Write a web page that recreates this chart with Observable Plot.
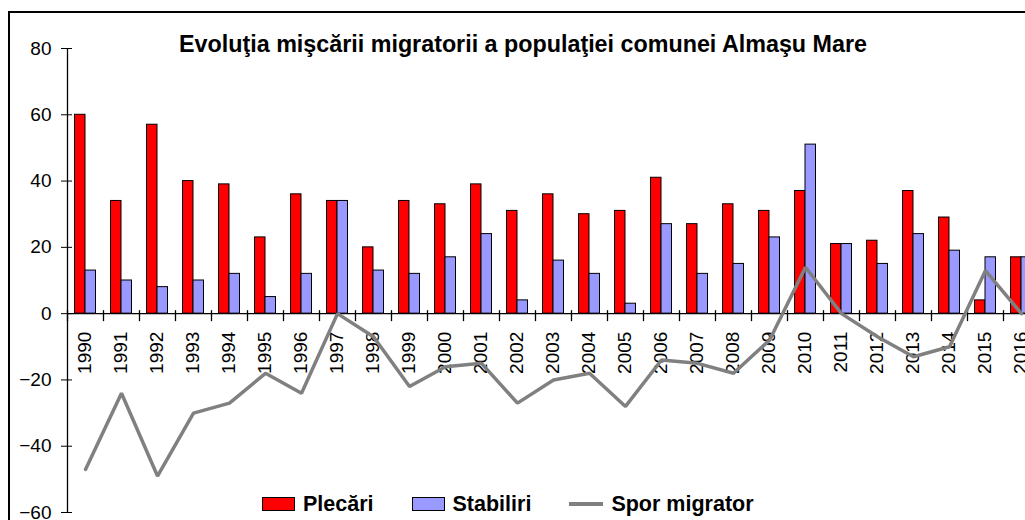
<!DOCTYPE html>
<html>
<head>
<meta charset="utf-8">
<script src="https://cdn.jsdelivr.net/npm/d3@7"></script>
<script src="https://cdn.jsdelivr.net/npm/@observablehq/plot@0.6"></script>
<style>
  html, body { margin: 0; padding: 0; background: #fff; overflow: hidden; }
  #wrap { position: relative; width: 1025px; height: 520px; overflow: hidden; background: #fff;
          font-family: "Liberation Sans", Arial, sans-serif; color: #000; }
  #chart { position: absolute; left: 0; top: 0; width: 1060px; height: 520px; }
  #chart svg { max-width: none !important; width: 1060px; height: 520px; }
  #frame { position: absolute; left: 8px; top: 11px; width: 1100px; height: 600px;
           border: 2px solid #000; pointer-events: none; }
  #title { position: absolute; left: 0; width: 1046px; top: 33px; text-align: center;
           font-weight: bold; font-size: 23.3px; line-height: 23px; white-space: nowrap; }
  #legend { position: absolute; left: 262px; top: 494px; height: 20px; display: flex;
            align-items: center; gap: 38px; font-weight: bold; font-size: 21.5px; line-height: 20px; }
  .item { display: flex; align-items: center; gap: 8px; white-space: nowrap; }
  .box { width: 33px; height: 14px; box-sizing: border-box; border: 1px solid #000; }
  .stroke { width: 34px; height: 4px; }
</style>
</head>
<body>
<div id="wrap">
  <div id="chart"></div>
  <div id="frame"></div>
  <div id="title"></div>
  <div id="legend"></div>
</div>
<script>
// Migration movement of the Almaşu Mare commune, 1990–2016
const title = "Evoluţia mişcării migratorii a populaţiei comunei Almaşu Mare";

const years = ["1990", "1991", "1992", "1993", "1994", "1995", "1996", "1997", "1998",
               "1999", "2000", "2001", "2002", "2003", "2004", "2005", "2006", "2007",
               "2008", "2009", "2010", "2011", "2012", "2013", "2014", "2015", "2016"];

// Departures
const plecari   = [60, 34, 57, 40, 39, 23, 36, 34, 20, 34, 33, 39, 31, 36, 30, 31, 41, 27,
                   33, 31, 37, 21, 22, 37, 29, 4, 17];
// Arrivals (settlements)
const stabiliri = [13, 10, 8, 10, 12, 5, 12, 34, 13, 12, 17, 24, 4, 16, 12, 3, 27, 12,
                   15, 23, 51, 21, 15, 24, 19, 17, 17];
// Net migration
const spor      = [-47, -24, -49, -30, -27, -18, -24, 0, -7, -22, -16, -15, -27, -20, -18, -28, -14, -15,
                   -18, -8, 14, 0, -7, -13, -10, 13, 0];

const yTicks = [-60, -40, -20, 0, 20, 40, 60, 80];

const seriesNames = ["Plecări", "Stabiliri", "Spor migrator"];
const colors = { plecari: "#FF0000", stabiliri: "#9999FF", spor: "#808080" };

const data = years.map((year, i) => ({
  year, plecari: plecari[i], stabiliri: stabiliri[i], spor: spor[i]
}));

const chart = Plot.plot({
  width: 1060,
  height: 520,
  marginLeft: 67,
  marginRight: 21,
  marginTop: 48,
  marginBottom: 8,
  style: { fontFamily: "'Liberation Sans', Arial, sans-serif", fontSize: "19px", color: "#000", background: "transparent", overflow: "visible" },
  x: { type: "band", domain: years, padding: 0, round: false, axis: null },
  y: { domain: [-60, 80], label: null },
  marks: [
    // paired bars inside each year band
    Plot.barY(data, { x: "year", y: "plecari", fill: colors.plecari, stroke: "#000", strokeWidth: 1,
                      insetLeft: 7.5, insetRight: 18 }),
    Plot.barY(data, { x: "year", y: "stabiliri", fill: colors.stabiliri, stroke: "#000", strokeWidth: 1,
                      insetLeft: 18, insetRight: 7.5 }),
    // value axis: crossing ticks and labels
    Plot.axisY({ ticks: yTicks, tickSize: 11, dx: 5, tickFormat: () => "", label: null, stroke: "#000" }),
    Plot.axisY({ ticks: yTicks, tickSize: 0, tickPadding: 16, fontSize: 19, label: null }),
    Plot.ruleX([years[0]], { x: d => d, dx: -18, stroke: "#000", strokeWidth: 1.3 }),
    // category axis along zero, with ticks between years
    Plot.ruleY([0], { stroke: "#000", strokeWidth: 1.3 }),
    Plot.ruleX(years, { x: d => d, y1: 0, y2: 0, insetTop: -3, insetBottom: -8, dx: -18, stroke: "#000", strokeWidth: 1.3 }),
    Plot.text(data, { x: "year", y: 0, text: "year", rotate: -90, textAnchor: "end", dy: 18, dx: -1,
                      fontSize: 19, fill: "#000" }),
    // net migration line
    Plot.line(data, { x: "year", y: "spor", stroke: colors.spor, strokeWidth: 3.5, strokeLinejoin: "miter" })
  ]
});
document.getElementById("chart").appendChild(chart);

document.getElementById("title").textContent = title;

// legend
const legend = document.getElementById("legend");
const swatches = [
  { cls: "box", color: colors.plecari },
  { cls: "box", color: colors.stabiliri },
  { cls: "stroke", color: colors.spor }
];
seriesNames.forEach((name, i) => {
  const item = document.createElement("div");
  item.className = "item";
  const sw = document.createElement("span");
  sw.className = swatches[i].cls;
  sw.style.background = swatches[i].color;
  const label = document.createElement("span");
  label.textContent = name;
  item.appendChild(sw);
  item.appendChild(label);
  legend.appendChild(item);
});
</script>
</body>
</html>
